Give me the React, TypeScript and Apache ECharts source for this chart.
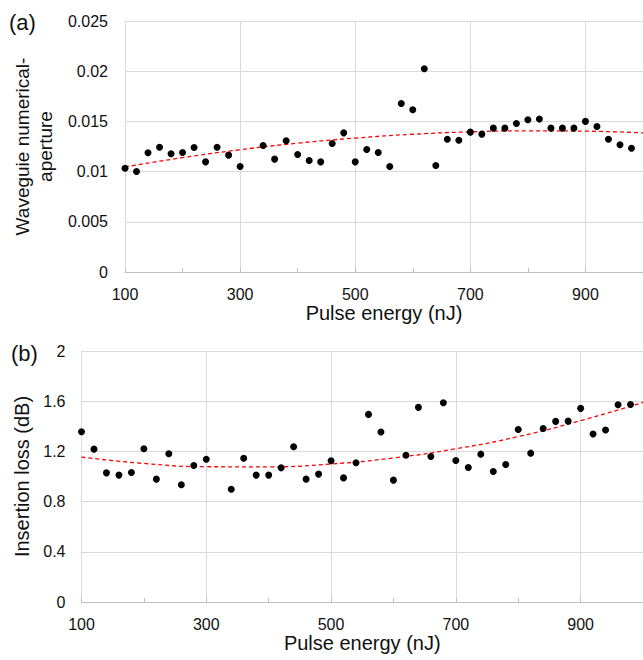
import React, { useEffect, useRef } from "react";
import * as echarts from "echarts";

// Pulse energy (nJ) of every measurement
const pulseEnergy = [
  100, 120, 140, 160, 180, 200, 220, 240, 260, 280, 300, 340, 360, 380, 400,
  420, 440, 460, 480, 500, 520, 540, 560, 580, 600, 620, 640, 660, 680, 700,
  720, 740, 760, 780, 800, 820, 840, 860, 880, 900, 920, 940, 960, 980,
];

// (a) Waveguide numerical aperture
const numericalAperture = [
  0.01034, 0.01001, 0.01187, 0.01243, 0.01177, 0.0119, 0.0124, 0.01097,
  0.01243, 0.01164, 0.0105, 0.0126, 0.01124, 0.01307, 0.0117, 0.0111,
  0.01097, 0.0128, 0.01386, 0.01097, 0.0122, 0.0119, 0.0105, 0.01679,
  0.01616, 0.02025, 0.0106, 0.01323, 0.01313, 0.01393, 0.01373, 0.01433,
  0.01433, 0.01479, 0.01516, 0.01523, 0.01433, 0.01433, 0.01433, 0.015,
  0.0145, 0.01323, 0.01267, 0.01233,
];

// (b) Insertion loss (dB)
const insertionLoss = [
  1.356, 1.218, 1.029, 1.011, 1.032, 1.221, 0.979, 1.181, 0.934, 1.088,
  1.138, 0.899, 1.146, 1.011, 1.011, 1.069, 1.237, 0.979, 1.019, 1.125,
  0.989, 1.109, 1.495, 1.354, 0.971, 1.17, 1.551, 1.16, 1.588, 1.128, 1.072,
  1.178, 1.04, 1.096, 1.375, 1.186, 1.383, 1.439, 1.441, 1.543, 1.338, 1.37,
  1.572, 1.574,
];

// Trend lines
const trendEnergy = [100, 200, 300, 400, 500, 600, 700, 800, 900, 1000];
const trendAperture = [
  0.01047, 0.01139, 0.01218, 0.01283, 0.01334, 0.01372, 0.01396, 0.01406,
  0.01403, 0.01385,
];
const trendLoss = [1.155, 1.104, 1.078, 1.077, 1.1, 1.148, 1.221, 1.318, 1.445, 1.59];

const xTitle = "Pulse energy (nJ)";
const yTitleA = "Waveguie numerical-\naperture";
const yTitleB = "Insertion loss (dB)";

const FONT = "'Liberation Sans', Arial, sans-serif";
const TXT = "#111111";

function xAxisCfg(gridIndex: number) {
  return {
    type: "value",
    gridIndex,
    min: 100,
    max: 1000,
    interval: 200,
    name: xTitle,
    nameLocation: "middle",
    nameGap: 29,
    nameTextStyle: { fontSize: 20, color: TXT, fontFamily: FONT },
    axisLine: { show: true, lineStyle: { color: "#bfbfbf", width: 1 } },
    axisTick: { show: true, inside: true, length: 4, lineStyle: { color: "#bfbfbf" } },
    minorTick: { show: true, splitNumber: 2, length: 4, lineStyle: { color: "#bfbfbf" } },
    axisLabel: {
      fontSize: 16,
      color: TXT,
      fontFamily: FONT,
      margin: 14,
      showMaxLabel: false,
    },
    splitLine: { show: true, lineStyle: { color: "#d9d9d9", width: 1 } },
  };
}

export default function App() {
  const ref = useRef<HTMLDivElement>(null);

  useEffect(() => {
    document.body.style.margin = "0";
    if (!ref.current) return;
    const chart = echarts.init(ref.current, undefined, { renderer: "svg" });

    const ptsA = pulseEnergy.map((x, i) => [x, numericalAperture[i]]);
    const ptsB = pulseEnergy.map((x, i) => [x, insertionLoss[i]]);
    const trA = trendEnergy.map((x, i) => [x, trendAperture[i]]);
    const trB = trendEnergy.map((x, i) => [x, trendLoss[i]]);

    chart.setOption({
      animation: false,
      backgroundColor: "#ffffff",
      textStyle: { fontFamily: FONT },
      grid: [
        { left: 125, top: 21, width: 522, height: 251 },
        { left: 81.5, top: 351, width: 567, height: 251 },
      ],
      xAxis: [xAxisCfg(0), xAxisCfg(1)],
      yAxis: [
        {
          type: "value",
          gridIndex: 0,
          min: 0,
          max: 0.025,
          interval: 0.005,
          name: yTitleA,
          nameLocation: "middle",
          nameGap: 66,
          nameTextStyle: { fontSize: 19, color: TXT, fontFamily: FONT, lineHeight: 23 },
          axisLine: { show: true, lineStyle: { color: "#d9d9d9" } },
          axisTick: { show: false },
          axisLabel: { fontSize: 16, color: TXT, fontFamily: FONT, margin: 17 },
          splitLine: { show: true, lineStyle: { color: "#d9d9d9" } },
        },
        {
          type: "value",
          gridIndex: 1,
          min: 0,
          max: 2,
          interval: 0.4,
          name: yTitleB,
          nameLocation: "middle",
          nameGap: 44,
          nameTextStyle: { fontSize: 20, color: TXT, fontFamily: FONT },
          axisLine: { show: true, lineStyle: { color: "#d9d9d9" } },
          axisTick: { show: false },
          axisLabel: { fontSize: 16, color: TXT, fontFamily: FONT, margin: 16 },
          splitLine: { show: true, lineStyle: { color: "#d9d9d9" } },
        },
      ],
      graphic: [
        {
          type: "text",
          left: 9,
          top: 11,
          style: { text: "(a)", fontSize: 22, fill: TXT, fontFamily: FONT },
        },
        {
          type: "text",
          left: 11,
          top: 342,
          style: { text: "(b)", fontSize: 22, fill: TXT, fontFamily: FONT },
        },
      ],
      series: [
        {
          type: "line",
          xAxisIndex: 0,
          yAxisIndex: 0,
          data: trA,
          smooth: true,
          showSymbol: false,
          lineStyle: { color: "#ff0000", width: 1.3, type: [4, 3] },
          z: 3,
        },
        {
          type: "scatter",
          xAxisIndex: 0,
          yAxisIndex: 0,
          data: ptsA,
          symbolSize: 7,
          itemStyle: { color: "#000000", opacity: 1 },
          z: 4,
        },
        {
          type: "line",
          xAxisIndex: 1,
          yAxisIndex: 1,
          data: trB,
          smooth: true,
          showSymbol: false,
          lineStyle: { color: "#ff0000", width: 1.3, type: [4, 3] },
          z: 3,
        },
        {
          type: "scatter",
          xAxisIndex: 1,
          yAxisIndex: 1,
          data: ptsB,
          symbolSize: 7,
          itemStyle: { color: "#000000", opacity: 1 },
          z: 4,
        },
      ],
    });

    return () => chart.dispose();
  }, []);

  return <div ref={ref} style={{ width: 643, height: 660 }} />;
}
